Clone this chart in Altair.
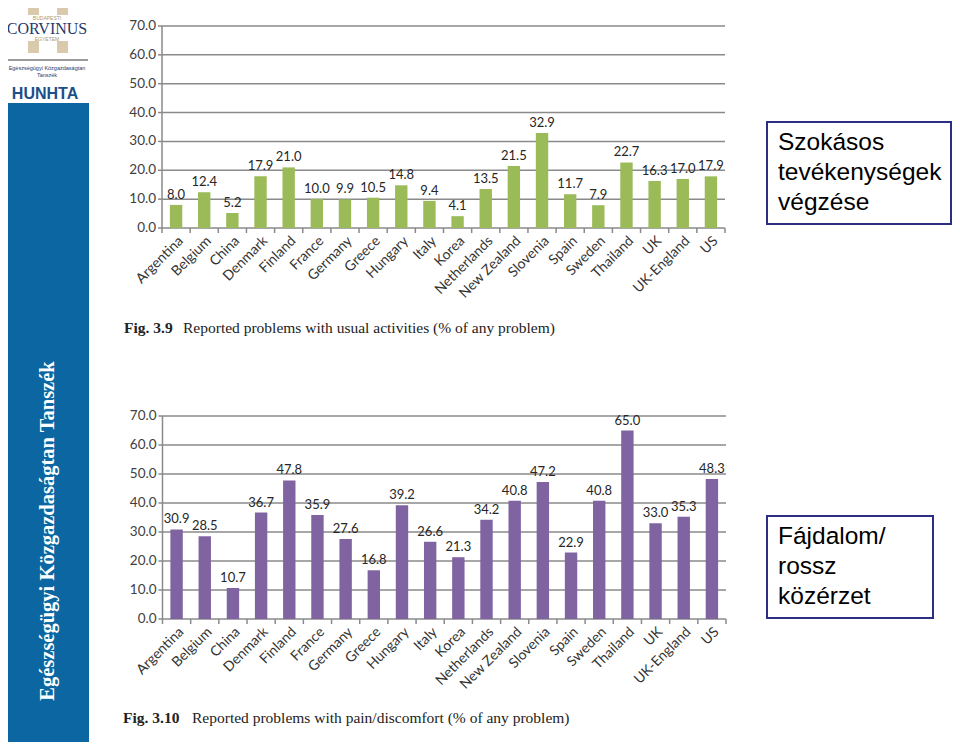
import altair as alt
import pandas as pd

countries = ["Argentina", "Belgium", "China", "Denmark", "Finland", "France", "Germany",
             "Greece", "Hungary", "Italy", "Korea", "Netherlands", "New Zealand", "Slovenia",
             "Spain", "Sweden", "Thailand", "UK", "UK-England", "US"]
usual_activities = [8.0, 12.4, 5.2, 17.9, 21.0, 10.0, 9.9, 10.5, 14.8, 9.4, 4.1, 13.5,
                    21.5, 32.9, 11.7, 7.9, 22.7, 16.3, 17.0, 17.9]
pain_discomfort = [30.9, 28.5, 10.7, 36.7, 47.8, 35.9, 27.6, 16.8, 39.2, 26.6, 21.3, 34.2,
                   40.8, 47.2, 22.9, 40.8, 65.0, 33.0, 35.3, 48.3]
y_ticks = [0, 10, 20, 30, 40, 50, 60, 70]
category_edges = list(range(len(countries) + 1))

W, H = 944, 734
one = pd.DataFrame({"k": [0]})
AX_FONT = "Lato"
GRAY = "#8a8a8a"


def panel(values, color, y0, y70, x0, x1):
    df = pd.DataFrame({"country": countries, "value": values})
    xs = alt.Scale(domain=countries, range=[x0, x1], paddingInner=0.56, paddingOuter=0.28)
    ys = alt.Scale(domain=[0, 70], range=[y0, y70], nice=False, zero=True)
    ticks_df = pd.DataFrame({"value": y_ticks})
    grid = alt.Chart(ticks_df).mark_rule(color=GRAY, strokeWidth=1.5).encode(
        y=alt.Y("value:Q", scale=ys, axis=None),
        x=alt.value(x0), x2=alt.value(x1),
    )
    ytick_marks = alt.Chart(ticks_df).mark_rule(color=GRAY, strokeWidth=1.5).encode(
        y=alt.Y("value:Q", scale=ys, axis=None),
        x=alt.value(x0 - 4), x2=alt.value(x0),
    )
    ydomain = alt.Chart(pd.DataFrame({"lo": [0], "hi": [70]})).mark_rule(
        color=GRAY, strokeWidth=1.5
    ).encode(
        y=alt.Y("lo:Q", scale=ys, axis=None), y2="hi:Q", x=alt.value(x0),
    )
    ylabels = alt.Chart(ticks_df).mark_text(
        align="right", baseline="middle", font=AX_FONT, fontSize=13.5, color="#404040"
    ).encode(
        y=alt.Y("value:Q", scale=ys, axis=None),
        x=alt.value(x0 - 6),
        text=alt.Text("value:Q", format=".1f"),
    )
    bars = alt.Chart(df).mark_bar(color=color).encode(
        x=alt.X("country:N", sort=countries, scale=xs, axis=None),
        y=alt.Y("value:Q", scale=ys, axis=None),
    )
    labels = alt.Chart(df).mark_text(
        baseline="bottom", dy=-3, font=AX_FONT, fontSize=13, color="#262626"
    ).encode(
        x=alt.X("country:N", sort=countries, scale=xs, axis=None),
        y=alt.Y("value:Q", scale=ys, axis=None),
        text=alt.Text("value:Q", format=".1f"),
    )
    xlabels = alt.Chart(df).mark_text(
        angle=315, align="right", baseline="top", font=AX_FONT, fontSize=14,
        color="#333333"
    ).encode(
        x=alt.X("country:N", sort=countries, scale=xs, axis=None),
        y=alt.value(y0 + 6),
        text="country:N",
    )
    body = alt.layer(grid, ytick_marks, ydomain, ylabels, bars, labels, xlabels)
    edges = alt.Chart(pd.DataFrame({"edge": category_edges})).mark_rule(
        color=GRAY, strokeWidth=1.5
    ).encode(
        x=alt.X("edge:Q", scale=alt.Scale(domain=[0, len(countries)], range=[x0, x1],
                                           nice=False, zero=False), axis=None),
        y=alt.value(y0), y2=alt.value(y0 + 5),
    )
    return [body, edges]


def vtext(text, x, y, **kw):
    return alt.Chart(one).mark_text(text=text, **kw).encode(x=alt.value(x), y=alt.value(y))


def vrect(x, x2, y, y2, **kw):
    return alt.Chart(one).mark_rect(**kw).encode(
        x=alt.value(x), x2=alt.value(x2), y=alt.value(y), y2=alt.value(y2))


NAVY = "#1F3A6E"
TAN = "#C9B48C"

decor = [
    # sidebar
    vrect(0, 81, 95, H, color="#0B66A1"),
    vtext("Egészségügyi Közgazdaságtan Tanszék", 40, 523, angle=270, align="center",
          baseline="middle", font="Liberation Serif", fontSize=20.5, fontWeight="bold",
          color="white"),
    # logo
    vrect(20, 31, 0, 7, color=TAN, opacity=0.7),
    vrect(49, 60, 0, 7, color=TAN, opacity=0.7),
    vrect(20, 31, 33, 45, color=TAN, opacity=0.7),
    vrect(49, 60, 33, 45, color=TAN, opacity=0.7),
    vtext("BUDAPESTI", 39, 10, align="center", baseline="middle", fontSize=5,
          font="Liberation Sans", color="#A89870"),
    vtext("CORVINUS", 39, 21, align="center", baseline="middle", fontSize=16,
          font="Liberation Serif", color=NAVY),
    vtext("EGYETEM", 39, 31, align="center", baseline="middle", fontSize=5,
          font="Liberation Sans", color="#A89870"),
    alt.Chart(one).mark_rule(color="#7a7a7a", strokeWidth=1.5).encode(
        x=alt.value(0), x2=alt.value(80), y=alt.value(52)),
    vtext("Egészségügyi Közgazdaságtan", 39, 60, align="center", baseline="middle",
          fontSize=5.5, font="Liberation Sans", color=NAVY),
    vtext("Tanszék", 39, 67, align="center", baseline="middle", fontSize=5.5,
          font="Liberation Sans", color=NAVY),
    vtext("HUNHTA", 37, 86, align="center", baseline="middle", fontSize=16,
          font="Liberation Sans Narrow, Liberation Sans", fontWeight="bold", color="#1B4F8A"),
    # captions
    vtext("Fig. 3.9", 116, 320, align="left", baseline="middle", font="Liberation Serif",
          fontSize=15.5, fontWeight="bold", color="#222222"),
    vtext("Reported problems with usual activities (% of any problem)", 175, 320,
          align="left", baseline="middle", font="Liberation Serif", fontSize=15.5,
          color="#222222"),
    vtext("Fig. 3.10", 115, 710, align="left", baseline="middle", font="Liberation Serif",
          fontSize=15.5, fontWeight="bold", color="#222222"),
    vtext("Reported problems with pain/discomfort (% of any problem)", 184, 710,
          align="left", baseline="middle", font="Liberation Serif", fontSize=15.5,
          color="#222222"),
    # right boxes
    vrect(759, 943, 114, 216, fill="white", stroke="#2B2E83", strokeWidth=2),
    alt.Chart(one).mark_text(text=["Szokásos", "tevékenységek", "végzése"], align="left",
                             baseline="alphabetic", lineHeight=30, font="Liberation Sans",
                             fontSize=24.5, color="black").encode(
        x=alt.value(770), y=alt.value(142)),
    vrect(759, 925, 508, 610, fill="white", stroke="#2B2E83", strokeWidth=2),
    alt.Chart(one).mark_text(text=["Fájdalom/", "rossz", "közérzet"], align="left",
                             baseline="alphabetic", lineHeight=30, font="Liberation Sans",
                             fontSize=24.5, color="black").encode(
        x=alt.value(770), y=alt.value(536)),
]

top = panel(usual_activities, "#9BBB59", 220, 18, 154, 717)
bottom = panel(pain_discomfort, "#8064A2", 611, 408, 154.5, 718)

chart = alt.layer(*decor, *top, *bottom).resolve_scale(
    x="independent", y="independent"
).properties(
    width=W, height=H, padding=0, autosize=alt.AutoSizeParams(type="none"),
    background="white"
).configure_view(stroke=None)

chart.save("out.html", embed_options={"renderer": "svg", "actions": False})
